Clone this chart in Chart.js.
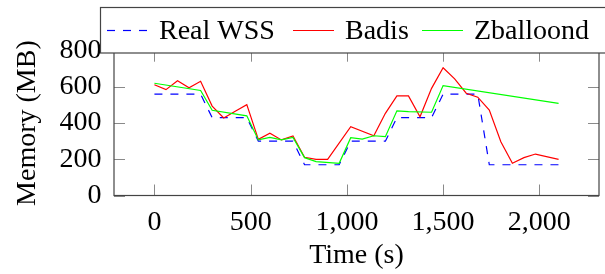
<!DOCTYPE html>
<html lang="en">
<head>
  <meta charset="UTF-8"/>
  <title>Memory over time</title>
  <script src="https://cdn.jsdelivr.net/npm/chart.js"></script>
  <style>
    html, body { margin: 0; padding: 0; background: #fff; }
    #wrap { width: 605px; height: 274px; }
  </style>
</head>
<body>
  <div id="wrap"><canvas id="memChart" width="605" height="274"></canvas></div>
  <script>
    // series names
    const seriesNames = ["Real WSS", "Badis", "Zballoond"];

    // Real WSS (step profile)
    const wssTime = [0, 240, 300, 480, 540, 720, 780, 960, 1020, 1200, 1260, 1440, 1500, 1680, 1740, 2100];
    const wssMem  = [560, 560, 430, 430, 300, 300, 170, 170, 300, 300, 430, 430, 560, 560, 170, 170];

    // Badis
    const badisTime = [0, 60, 120, 180, 240, 300, 360, 420, 480, 540, 600, 660, 720, 780, 840, 900,
                       1020, 1140, 1200, 1260, 1320, 1380, 1440, 1500, 1560, 1620, 1680, 1740, 1800,
                       1860, 1920, 1980, 2100];
    const badisMem  = [612, 585, 634, 595, 631, 494, 428, 466, 502, 310, 344, 307, 329, 211, 200, 200,
                       380, 330, 454, 550, 550, 435, 592, 706, 644, 565, 543, 472, 297,
                       178, 209, 229, 200];

    // Zballoond
    const zbTime = [0, 240, 300, 480, 540, 600, 660, 720, 780, 840, 960, 1020, 1080, 1140, 1200, 1260, 1320, 1440, 1500, 2100];
    const zbMem  = [620, 580, 471, 440, 307, 321, 307, 321, 209, 187, 178, 319, 312, 330, 325, 468, 463, 460, 607, 509];

    // axis ticks
    const xTicks = [0, 500, 1000, 1500, 2000];
    const yTicks = [0, 200, 400, 600, 800];

    const FONT = "'Liberation Serif', 'DejaVu Serif', serif";

    function pts(t, v) { return t.map((x, i) => ({ x: x, y: v[i] })); }

    // pgfplots-style frame with inward ticks on all four sides
    const frameTicks = {
      id: 'frameTicks',
      afterDatasetsDraw(chart) {
        const { ctx, chartArea: a, scales: { x, y } } = chart;
        const len = 11;
        ctx.save();
        ctx.strokeStyle = '#8a8a8a';
        ctx.lineWidth = 1;
        ctx.beginPath();
        xTicks.forEach(v => {
          const px = Math.round(x.getPixelForValue(v)) + 0.5;
          ctx.moveTo(px, a.bottom); ctx.lineTo(px, a.bottom - len);
          ctx.moveTo(px, a.top); ctx.lineTo(px, a.top + len);
        });
        yTicks.forEach(v => {
          const py = Math.round(y.getPixelForValue(v)) + 0.5;
          ctx.moveTo(a.left, py); ctx.lineTo(a.left + len, py);
          ctx.moveTo(a.right, py); ctx.lineTo(a.right - len, py);
        });
        ctx.stroke();
        ctx.strokeStyle = '#444';
        ctx.lineWidth = 1.2;
        ctx.strokeRect(a.left, a.top, a.right - a.left, a.bottom - a.top);
        ctx.restore();
      }
    };

    // boxed legend across the top, overlapping the frame like the original
    const boxLegend = {
      id: 'boxLegend',
      afterDraw(chart, args, opts) {
        const { ctx } = chart;
        ctx.save();
        ctx.fillStyle = '#fff';
        ctx.fillRect(100, 7, 520, 46);
        ctx.strokeStyle = '#444';
        ctx.lineWidth = 1.2;
        ctx.strokeRect(100.5, 7.5, 520, 45.5);
        ctx.font = '28px ' + FONT;
        ctx.textBaseline = 'alphabetic';
        chart.data.datasets.forEach((ds, i) => {
          const x0 = opts.starts[i];
          ctx.strokeStyle = ds.borderColor;
          ctx.lineWidth = ds.borderWidth;
          ctx.setLineDash(ds.borderDash || []);
          ctx.beginPath();
          ctx.moveTo(x0, 30.5);
          ctx.lineTo(x0 + 41, 30.5);
          ctx.stroke();
          ctx.setLineDash([]);
          ctx.fillStyle = '#000';
          ctx.fillText(ds.label, x0 + 52, 38.5);
        });
        ctx.restore();
      }
    };

    new Chart(document.getElementById('memChart').getContext('2d'), {
      type: 'line',
      data: {
        datasets: [
          {
            label: seriesNames[0],
            data: pts(wssTime, wssMem),
            borderColor: '#0000ff',
            borderWidth: 1.2,
            borderDash: [8, 8],
            pointRadius: 0,
            tension: 0,
            order: 3
          },
          {
            label: seriesNames[1],
            data: pts(badisTime, badisMem),
            borderColor: '#ff0000',
            borderWidth: 1.2,
            pointRadius: 0,
            tension: 0,
            order: 2
          },
          {
            label: seriesNames[2],
            data: pts(zbTime, zbMem),
            borderColor: '#00ff00',
            borderWidth: 1.2,
            pointRadius: 0,
            tension: 0,
            order: 1
          }
        ]
      },
      options: {
        responsive: false,
        animation: false,
        devicePixelRatio: 1,
        layout: { padding: { top: 50.7, right: 6, left: 0, bottom: 0 } },
        plugins: {
          legend: { display: false },
          tooltip: { enabled: false },
          boxLegend: { starts: [107, 293, 422] }
        },
        scales: {
          x: {
            type: 'linear',
            min: -210,
            max: 2310,
            grid: { display: false, drawTicks: false },
            border: { display: false },
            afterBuildTicks: s => { s.ticks = xTicks.map(v => ({ value: v })); },
            afterFit: s => { s.height = 78.5; },
            ticks: {
              padding: 10,
              autoSkip: false,
              color: '#000',
              font: { family: FONT, size: 28 },
              maxRotation: 0,
              callback: v => v.toLocaleString('en-US')
            },
            title: {
              display: true,
              text: 'Time (s)',
              color: '#000',
              font: { family: FONT, size: 28 },
              padding: { top: 0, bottom: 1.7 }
            }
          },
          y: {
            min: 0,
            max: 800,
            grid: { display: false, drawTicks: false },
            border: { display: false },
            afterBuildTicks: s => { s.ticks = yTicks.map(v => ({ value: v })); },
            afterFit: s => { s.width = 114; },
            ticks: {
              padding: 12.5,
              autoSkip: false,
              color: '#000',
              font: { family: FONT, size: 28 },
              callback: v => String(v)
            },
            title: {
              display: true,
              text: 'Memory (MB)',
              color: '#000',
              font: { family: FONT, size: 28 },
              padding: { top: 10.4, bottom: 0 }
            }
          }
        }
      },
      plugins: [frameTicks, boxLegend]
    });
  </script>
</body>
</html>
